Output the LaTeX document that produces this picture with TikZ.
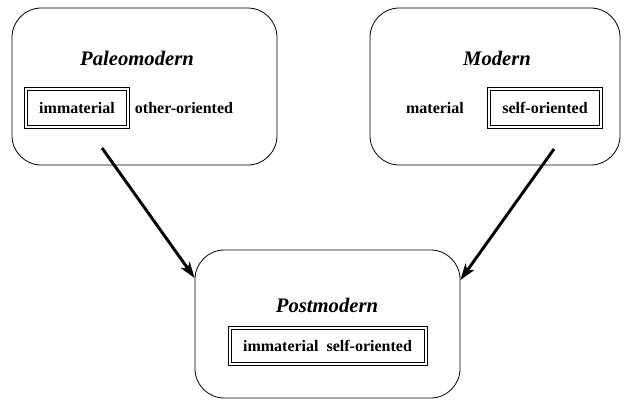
\documentclass[tikz,border=0pt]{standalone}
\usepackage{fontspec}
\setmainfont{Liberation Serif}
\usetikzlibrary{arrows.meta,positioning}

\begin{document}
\begin{tikzpicture}[x=0.75pt,y=-0.75pt,
 era/.style={draw,rounded corners=22pt,line width=0.6pt},
 eraname/.style={font=\fontsize{15.5}{18}\selectfont\bfseries\itshape},
 trait/.style={font=\fontsize{12}{14}\selectfont\bfseries},
 kept/.style={trait,draw,double,double distance=1.5pt,line width=0.75pt,
    inner xsep=10pt,minimum height=28pt},
 leadsto/.style={line width=2.2pt,-{Stealth[length=12pt,width=8pt,inset=3pt]}}]

 \useasboundingbox (0,0) rectangle (624,405);

 \node (paleo) [era,minimum width=198.75pt,minimum height=117.75pt] at (144.5,86.5) {};
 \node (modern) [era,minimum width=187.5pt,minimum height=117.75pt] at (495,86.5) {};
 \node (post) [era,minimum width=198.75pt,minimum height=111pt] at (327.5,324) {};

% Paleomodern
 \node (paleoname) [eraname] at (137,58) {Paleomodern};
 \node (paleoimm) [kept] at (77,108) {immaterial};
 \node (paleoother) [trait] at (184,108) {other-oriented};

% Modern
 \node (modname) [eraname] at (497,58) {Modern};
 \node (modmat) [trait] at (435,108) {material};
 \node (modself) [kept] at (545,108) {self-oriented};

% Postmodern
 \node (postname) [eraname] at (327,305) {Postmodern};
 \node (postboth) [kept,minimum width=147pt,minimum height=27pt] at (327.5,346) {immaterial\ \ self-oriented};

 \coordinate (paleotail) at (102,148);
 \coordinate (modtail) at (554,149);
 \draw [leadsto] (paleotail) -- ([yshift=34.5pt]post.west);
 \draw [leadsto] (modtail) -- ([yshift=33pt]post.east);

\end{tikzpicture}
\end{document}
